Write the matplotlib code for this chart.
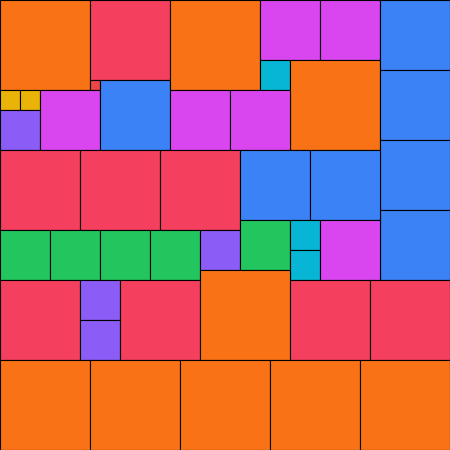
import matplotlib
matplotlib.use('Agg')
import matplotlib.pyplot as plt
from matplotlib.patches import Rectangle

# tiles in grid units (1 unit = 10 px), y counted from the top
x = [0, 9, 9, 0, 2, 0, 4, 10, 17, 26, 32, 26, 29, 17, 23, 38, 38, 38, 38,
     0, 8, 16, 24, 31, 0, 5, 10, 15, 20, 24, 29, 29, 32,
     0, 8, 8, 12, 20, 29, 37,
     0, 9, 18, 27, 36]
y = [0, 0, 8, 9, 9, 11, 9, 8, 0, 0, 0, 6, 6, 9, 9, 0, 7, 14, 21,
     15, 15, 15, 15, 15, 23, 23, 23, 23, 23, 22, 22, 25, 22,
     28, 28, 32, 28, 27, 28, 28,
     36, 36, 36, 36, 36]
w = [9, 8, 1, 2, 2, 4, 6, 7, 9, 6, 6, 3, 9, 6, 6, 7, 7, 7, 7,
     8, 8, 8, 7, 7, 5, 5, 5, 5, 4, 5, 3, 3, 6,
     8, 4, 4, 8, 9, 8, 8,
     9, 9, 9, 9, 9]
h = [9, 8, 1, 2, 2, 4, 6, 7, 9, 6, 6, 3, 9, 6, 6, 7, 7, 7, 7,
     8, 8, 8, 7, 7, 5, 5, 5, 5, 4, 5, 3, 3, 6,
     8, 4, 4, 8, 9, 8, 8,
     9, 9, 9, 9, 9]
kind = ['orange', 'rose', 'red', 'yellow', 'yellow', 'violet', 'fuchsia', 'blue',
        'orange', 'fuchsia', 'fuchsia', 'cyan', 'orange', 'fuchsia', 'fuchsia',
        'blue', 'blue', 'blue', 'blue',
        'rose', 'rose', 'rose', 'blue', 'blue', 'green', 'green', 'green', 'green',
        'violet', 'green', 'cyan', 'cyan', 'fuchsia',
        'rose', 'violet', 'violet', 'rose', 'orange', 'rose', 'rose',
        'orange', 'orange', 'orange', 'orange', 'orange']

palette = {'orange': '#F97316', 'rose': '#F43F5E', 'red': '#EF4444',
           'yellow': '#EAB308', 'violet': '#8B5CF6', 'fuchsia': '#D946EF',
           'blue': '#3B82F6', 'cyan': '#06B6D4', 'green': '#22C55E'}

fig = plt.figure(figsize=(4.5, 4.5), dpi=100)
ax = fig.add_axes([0, 0, 1, 1])
for i in range(len(x)):
    ax.add_patch(Rectangle((x[i], y[i]), w[i], h[i], facecolor=palette[kind[i]],
                           edgecolor='black', linewidth=0.8))
ax.set_xlim(0, 45)
ax.set_ylim(45, 0)
ax.axis('off')

fig.savefig('out.png', dpi=100)
